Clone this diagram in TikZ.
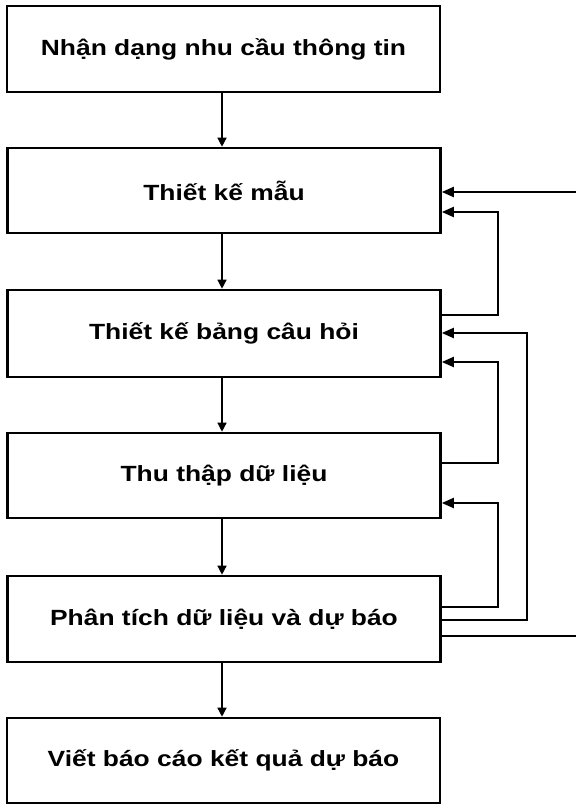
\documentclass[tikz,border=0pt]{standalone}
\usepackage{graphicx}
\usepackage{fontspec}
\setmainfont{Liberation Sans}
\usetikzlibrary{arrows.meta}
\newcommand\widetext[1]{\scalebox{1.2}[1]{#1}}
\begin{document}
\begin{tikzpicture}[x=1pt,y=-1pt,
  box/.style={draw=black,line width=2.6pt,minimum width=433pt,inner sep=0pt,
    font=\fontsize{22}{26}\selectfont\bfseries},
  flow/.style={line width=1.4pt,-{Triangle[length=9pt,width=9pt]}},
  fb/.style={line width=2pt,-{Triangle[length=12pt,width=10pt]}},
  fbl/.style={line width=2pt}]
\useasboundingbox (0,0) rectangle (576,805);
\node[box,minimum height=86pt] (b1) at (223.5,49) {\widetext{Nhận dạng nhu cầu thông tin}};
\node[box,minimum height=85pt] (b2) at (224,190.5) {\widetext{Thiết kế mẫu}};
\node[box,minimum height=87pt] (b3) at (224,333.5) {\widetext{Thiết kế bảng câu hỏi}};
\node[box,minimum height=85pt] (b4) at (224,475.5) {\widetext{Thu thập dữ liệu}};
\node[box,minimum height=86pt] (b5) at (224,619) {\widetext{Phân tích dữ liệu và dự báo}};
\node[box,minimum height=85pt] (b6) at (223.5,760.5) {\widetext{Viết báo cáo kết quả dự báo}};
% main flow
\draw[flow] (b1.south -| 222,0) -- (b2.north -| 222,0);
\draw[flow] (b2.south -| 222,0) -- (b3.north -| 222,0);
\draw[flow] (b3.south -| 222,0) -- (b4.north -| 222,0);
\draw[flow] (b4.south -| 222,0) -- (b5.north -| 222,0);
\draw[flow] (b5.south -| 222,0) -- (b6.north -| 222,0);
% feedback loops
\coordinate (outin) at (576,192);
\coordinate (outout) at (576,636);
\draw[fb] (outin) -- (b2.east |- outin);
\draw[fbl] (b5.east |- outout) -- (outout);
\draw[fb] (b3.east |- 0,315) -| (498,212) -- (b2.east |- 0,212);
\draw[fb] (b5.east |- 0,620) -| (527,333) -- (b3.east |- 0,333);
\draw[fb] (b4.east |- 0,463) -| (498,362) -- (b3.east |- 0,362);
\draw[fb] (b5.east |- 0,607) -| (498,503) -- (b4.east |- 0,503);
\end{tikzpicture}
\end{document}
